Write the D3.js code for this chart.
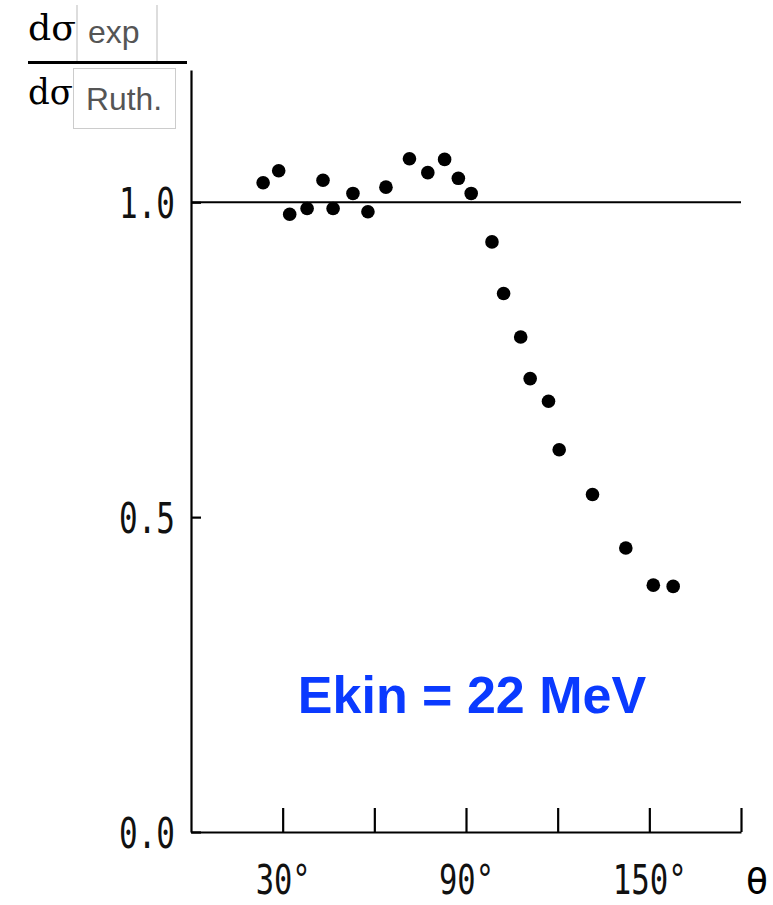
<!DOCTYPE html>
<html>
<head>
<meta charset="utf-8">
<script src="https://cdn.jsdelivr.net/npm/d3@7"></script>
<style>
  body { margin: 0; background: #fff; }
  svg { display: block; }
</style>
</head>
<body>
<svg id="drawing_scatter"></svg>
<script>
// scattering angle (deg) and ratio dsigma_exp / dsigma_Ruth
const theta = [23.6, 28.7, 32.3, 38.0, 43.2, 46.5, 53.0, 57.9, 63.8, 71.5, 77.5, 83.0,
               87.5, 91.7, 98.5, 102.3, 107.9, 111.0, 117.0, 120.5, 131.4, 142.3, 151.3, 157.8];
const ratio = [1.031, 1.050, 0.981, 0.990, 1.035, 0.990, 1.014, 0.985, 1.024, 1.069, 1.047, 1.068,
               1.038, 1.014, 0.937, 0.855, 0.786, 0.720, 0.684, 0.607, 0.536, 0.451, 0.392, 0.390];

const xTicks = [30, 60, 90, 120, 150, 180];
const xTickLabels = [30, 90, 150];
const yTicks = [0.0, 0.5, 1.0];
const refLine = 1.0;
const energyLabel = "Ekin = 22 MeV";

const config = {
    width: 773,
    height: 905,
    margin: {top: 70, right: 32, bottom: 73, left: 191}
};

const svg = d3.select('#drawing_scatter')
    .attr('width', config.width)
    .attr('height', config.height);

const inner_width = config.width - config.margin.left - config.margin.right;
const inner_height = config.height - config.margin.top - config.margin.bottom;

const chart = svg.append('g')
    .attr('transform', `translate(${config.margin.left}, ${config.margin.top})`);

const xscale = d3.scaleLinear().domain([0, 180]).range([0, inner_width]);
const yscale = d3.scaleLinear().domain([0, 1.21]).range([inner_height, 0]);

const tickFont = "'DejaVu Sans Mono', monospace";

// x axis: ticks pointing up
const xaxis_group = chart.append('g')
    .attr('transform', `translate(0, ${inner_height})`)
    .call(d3.axisBottom(xscale).tickValues(xTicks).tickSizeInner(-24).tickSizeOuter(0).tickFormat(''));

// x labels
const xlabel_group = chart.append('g')
    .attr('transform', `translate(0, ${inner_height})`)
    .call(d3.axisBottom(xscale).tickValues(xTickLabels).tickSize(0).tickPadding(34)
        .tickFormat(d => d + '°'));
xlabel_group.select('.domain').remove();

// y axis: ticks pointing right
const yaxis_group = chart.append('g')
    .call(d3.axisLeft(yscale).tickValues(yTicks).tickSizeInner(-10).tickSizeOuter(0)
        .tickPadding(16).tickFormat(d3.format('.1f')));

[xaxis_group, yaxis_group].forEach(g => {
    g.select('.domain').attr('stroke', '#000').attr('stroke-width', 2.2);
    g.selectAll('.tick line').attr('stroke', '#000').attr('stroke-width', 2.2);
});

xlabel_group.selectAll('text')
    .style('font-family', tickFont)
    .style('font-size', '40px')
    .attr('fill', '#111')
    .attr('dy', '0.71em')
    .attr('textLength', d => String(d).length * 19 + 17)
    .attr('lengthAdjust', 'spacingAndGlyphs');

yaxis_group.selectAll('text')
    .style('font-family', tickFont)
    .style('font-size', '42px')
    .attr('fill', '#111')
    .attr('dy', '0.36em')
    .attr('textLength', 56)
    .attr('lengthAdjust', 'spacingAndGlyphs');

// theta label
svg.append('text')
    .attr('x', config.margin.left + xscale(180) + 16)
    .attr('y', 894)
    .attr('text-anchor', 'middle')
    .style('font-family', tickFont)
    .style('font-size', '38px')
    .attr('textLength', 23)
    .attr('lengthAdjust', 'spacingAndGlyphs')
    .text('θ');

// reference line at 1.0
chart.append('line')
    .attr('x1', xscale(0))
    .attr('x2', xscale(180))
    .attr('y1', yscale(refLine))
    .attr('y2', yscale(refLine))
    .attr('stroke', '#000')
    .attr('stroke-width', 2.2);

// data points
chart.selectAll('circle')
    .data(theta.map((t, i) => ({x: t, y: ratio[i]})))
    .enter()
    .append('circle')
    .attr('cx', d => xscale(d.x))
    .attr('cy', d => yscale(d.y))
    .attr('r', 6.8)
    .attr('fill', '#000');

// energy label
svg.append('text')
    .attr('x', 472)
    .attr('y', 713)
    .attr('text-anchor', 'middle')
    .style('font-family', "'Liberation Sans', Arial, sans-serif")
    .style('font-weight', 'bold')
    .style('font-size', '52px')
    .attr('fill', '#0a3aff')
    .text(energyLabel);

// y label: dsigma_exp / dsigma_Ruth
const ylab = svg.append('g');
ylab.append('text')
    .attr('x', 28).attr('y', 40)
    .style('font-family', "'DejaVu Serif', serif")
    .style('font-size', '36px')
    .attr('textLength', 48)
    .attr('lengthAdjust', 'spacingAndGlyphs')
    .text('dσ');
ylab.append('text')
    .attr('x', 28).attr('y', 104)
    .style('font-family', "'DejaVu Serif', serif")
    .style('font-size', '36px')
    .attr('textLength', 45)
    .attr('lengthAdjust', 'spacingAndGlyphs')
    .text('dσ');
ylab.append('line')
    .attr('x1', 77).attr('x2', 77).attr('y1', 5).attr('y2', 62)
    .attr('stroke', '#bbb').attr('stroke-width', 1);
ylab.append('line')
    .attr('x1', 157).attr('x2', 157).attr('y1', 5).attr('y2', 62)
    .attr('stroke', '#bbb').attr('stroke-width', 1);
ylab.append('rect')
    .attr('x', 73.5).attr('y', 68.5).attr('width', 102).attr('height', 60)
    .attr('fill', 'none').attr('stroke', '#ccc').attr('stroke-width', 1);
ylab.append('line')
    .attr('x1', 28).attr('x2', 187).attr('y1', 62.5).attr('y2', 62.5)
    .attr('stroke', '#000').attr('stroke-width', 3);
ylab.append('text')
    .attr('x', 88).attr('y', 43)
    .style('font-family', "'Liberation Sans', Arial, sans-serif")
    .style('font-size', '32px')
    .attr('fill', '#555')
    .text('exp');
ylab.append('text')
    .attr('x', 86).attr('y', 110)
    .style('font-family', "'Liberation Sans', Arial, sans-serif")
    .style('font-size', '32px')
    .attr('fill', '#555')
    .attr('textLength', 76)
    .attr('lengthAdjust', 'spacingAndGlyphs')
    .text('Ruth.');
</script>
</body>
</html>
